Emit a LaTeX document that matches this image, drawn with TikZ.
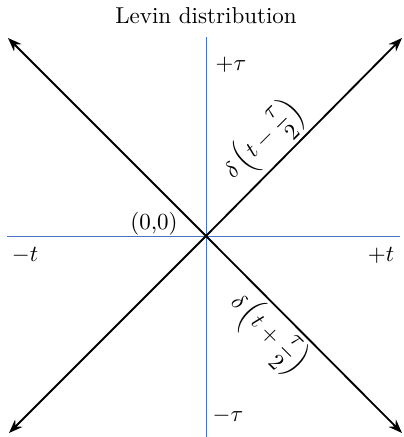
\documentclass[tikz,border=0pt]{standalone}
\usepackage{amsmath}
\usetikzlibrary{arrows.meta}
\definecolor{axisblue}{RGB}{68,114,196}
\begin{document}
\begin{tikzpicture}[x=0.01527cm,y=-0.01527cm,
  axisline/.style={draw=axisblue,line width=0.4pt},
  diag/.style={draw=black,line width=0.8pt,-{Stealth[length=6pt,width=4.5pt]}},
  lbl/.style={inner sep=0pt}]
\useasboundingbox (0,0) rectangle (403,437);
\coordinate (O) at (206,236);
\coordinate (L) at (7,236);
\coordinate (R) at (400,236);
\coordinate (T) at (206,37);
\coordinate (B) at (206,437);
\coordinate (TL) at (8,38);
\coordinate (TR) at (402,38);
\coordinate (BL) at (9,433);
\coordinate (BR) at (402,433);
\draw[axisline] (L) -- (R);
\draw[axisline] (T) -- (B);
\draw[diag] (O) -- (TL);
\draw[diag] (O) -- (TR);
\draw[diag] (O) -- (BL);
\draw[diag] (O) -- (BR);
\node[lbl,anchor=base] (title) at (206,24) {Levin distribution};
\node[lbl,anchor=base] (ptau) at (231,71) {$+\tau$};
\node[lbl,anchor=base] (mtau) at (228,421) {$-\tau$};
\node[lbl,anchor=base] (mt) at (25,262) {$-t$};
\node[lbl,anchor=base] (pt) at (381,262) {$+t$};
\node[lbl,anchor=base] (orig) at (154,229) {(0,0)};
\node[lbl,rotate=45] (d1) at (264,141) {$\delta\left(t-\dfrac{\tau}{2}\right)$};
\node[lbl,rotate=-45] (d2) at (268,334) {$\delta\left(t+\dfrac{\tau}{2}\right)$};
\end{tikzpicture}
\end{document}
